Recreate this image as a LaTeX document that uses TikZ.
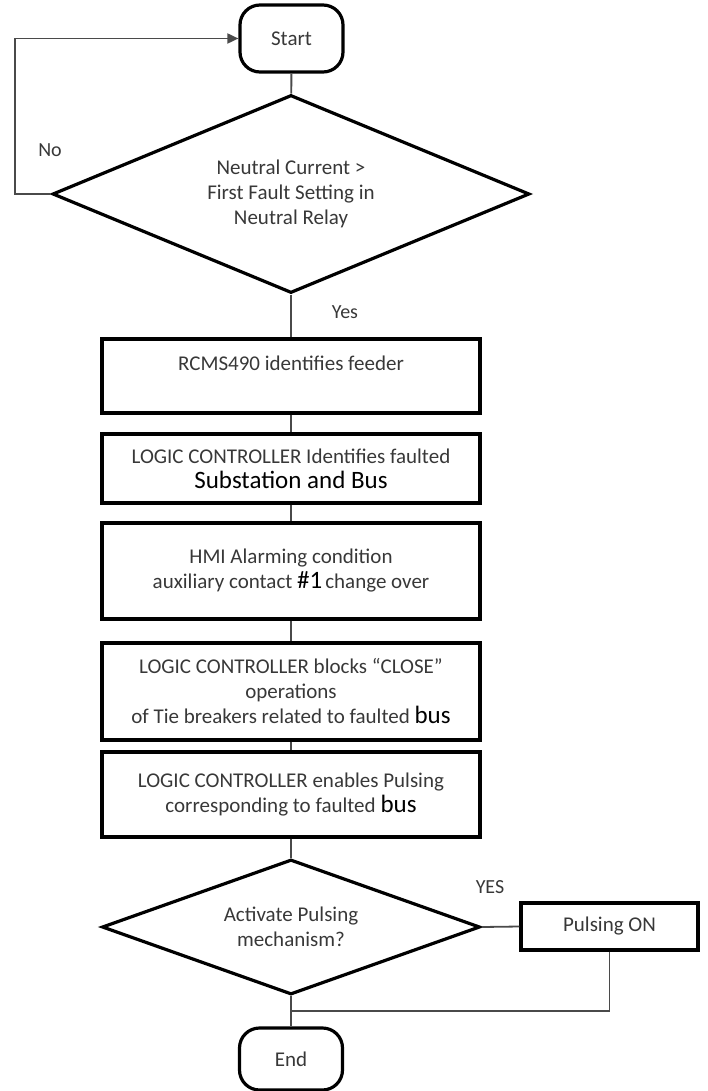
\documentclass[tikz,border=0pt]{standalone}
\usepackage{fontspec}
\setmainfont{Carlito}
\usetikzlibrary{shapes.geometric,arrows.meta}
\definecolor{txt}{HTML}{383838}
\definecolor{lnc}{HTML}{4A4A4A}
\newcommand\bigt[1]{{\color{black}\fontsize{25}{25}\selectfont #1}}
\begin{document}
\begin{tikzpicture}[x=1pt,y=-1pt,
  shapeline/.style={draw=black,line width=3.2pt},
  body/.style={text=txt,font=\fontsize{21}{25}\selectfont,align=center},
  stepbox/.style={shapeline,rectangle,minimum width=378pt,minimum height=#1,inner sep=0pt,body},
  decision/.style={shapeline,diamond,inner sep=0pt,body},
  term/.style={shapeline,rectangle,rounded corners=20pt,minimum width=103pt,inner sep=0pt,body},
  conn/.style={draw=lnc,line width=1.8pt},
  lbl/.style={text=txt,font=\fontsize{20}{24}\selectfont,inner sep=0pt}
]
\useasboundingbox (0,0) rectangle (708,1091);

\node[term,minimum height=67pt] (start) at (291.5,38.5) {Start};
\node[decision,aspect=2.41,minimum width=477pt,minimum height=198pt] (d1) at (291,194)
  {Neutral Current >\\First Fault Setting in\\Neutral Relay};
\node[stepbox=74pt] (b1) at (291,376) {};
\node[body,inner sep=0pt] (b1t) at (291,363) {RCMS490 identifies feeder};
\node[stepbox=69pt] (b2) at (291,468.5)
  {LOGIC CONTROLLER Identifies faulted\\\bigt{Substation and Bus}};
\node[stepbox=96pt] (b3) at (291,571)
  {HMI Alarming condition\\auxiliary contact \bigt{\#1}\hspace{3pt}change over};
\node[stepbox=97pt] (b4) at (291,691.5)
  {LOGIC CONTROLLER blocks “CLOSE”\\operations\\of Tie breakers related to faulted \bigt{bus}};
\node[stepbox=85pt] (b5) at (291,794.5)
  {LOGIC CONTROLLER enables Pulsing\\corresponding to faulted \bigt{bus}};
\node[decision,aspect=2.8,minimum width=378pt,minimum height=135pt] (d2) at (291,927)
  {Activate Pulsing\\mechanism?};
\node[shapeline,rectangle,minimum width=177pt,minimum height=47pt,inner sep=0pt,body] (pon) at (609.5,926.5) {Pulsing ON};
\node[term,minimum height=62pt] (end) at (291,1059) {End};

\node[lbl] (no) at (50,150) {No};
\node[lbl] (yes) at (345,312) {Yes};
\node[lbl] (yes2) at (490,887) {YES};

\coordinate (lp) at (15,100);
\coordinate (jn) at (291,1011);

\draw[conn] (start) -- (d1);
\draw[conn,-{Triangle[length=11pt,width=10pt]}] (d1.west) -- (d1.west -| lp) |- (start.west);
\draw[conn] (d1) -- (b1);
\draw[conn] (b1) -- (b2);
\draw[conn] (b2) -- (b3);
\draw[conn] (b3) -- (b4);
\draw[conn] (b4) -- (b5);
\draw[conn] (b5) -- (d2);
\draw[conn] (d2.east) -- (pon.west);
\draw[conn] (pon.south) |- (jn);
\draw[conn] (d2) -- (end);
\end{tikzpicture}
\end{document}
